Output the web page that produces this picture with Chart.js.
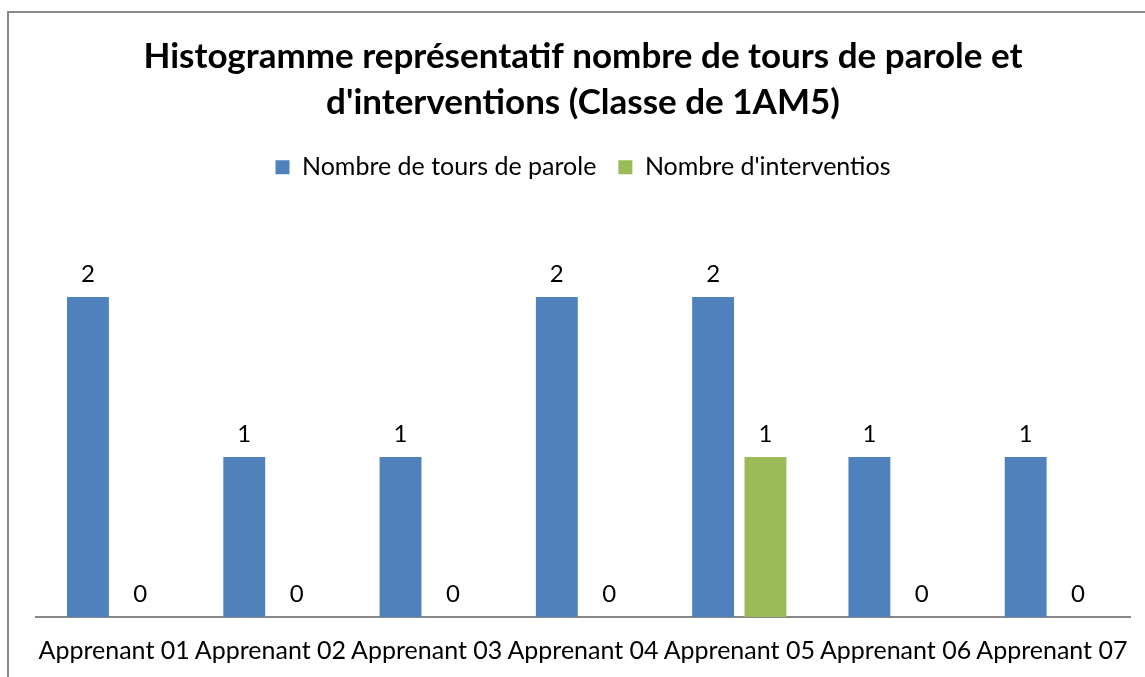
<!DOCTYPE html>
<html>
<head>
<meta charset="utf-8">
<script src="https://cdn.jsdelivr.net/npm/chart.js@4/dist/chart.umd.min.js"></script>
<style>
  body { margin: 0; background: #fff; }
  #cadre { position: absolute; left: 7px; top: 11px; width: 1200px; height: 700px; border: 2px solid #888; box-sizing: border-box; }
  #zone { position: absolute; left: 0; top: 0; width: 1145px; height: 677px; }
</style>
</head>
<body>
<div id="cadre"></div>
<div id="zone"><canvas id="graf"></canvas></div>
<script>
var apprenants = ["Apprenant 01", "Apprenant 02", "Apprenant 03", "Apprenant 04", "Apprenant 05", "Apprenant 06", "Apprenant 07"];
var toursParole = [2, 1, 1, 2, 2, 1, 1];
var interventions = [0, 0, 0, 0, 1, 0, 0];

var police = "Lato, 'Open Sans', sans-serif";

// petit plugin pour écrire la valeur au-dessus de chaque barre
var etiquettes = {
    id: 'etiquettes',
    afterDatasetsDraw: function (chart) {
        var ctx = chart.ctx;
        ctx.save();
        ctx.fillStyle = '#000';
        ctx.font = '24px ' + police;
        ctx.textAlign = 'center';
        ctx.textBaseline = 'middle';
        chart.data.datasets.forEach(function (ds, i) {
            chart.getDatasetMeta(i).data.forEach(function (bar, j) {
                ctx.fillText(ds.data[j], bar.x, bar.y - 23);
            });
        });
        ctx.restore();
    }
};

function createBarChart() {
    var ctx = document.getElementById('graf');
    new Chart(ctx, {
        type: 'bar',
        data: {
            labels: apprenants,
            datasets: [{
                label: 'Nombre de tours de parole',
                data: toursParole,
                backgroundColor: '#4F81BD'
            }, {
                label: "Nombre d'interventios",
                data: interventions,
                backgroundColor: '#9BBB59'
            }]
        },
        options: {
            responsive: true,
            maintainAspectRatio: false,
            animation: false,
            categoryPercentage: 0.67,
            barPercentage: 0.8,
            layout: { padding: { left: 36, right: 15, top: 34, bottom: 0 } },
            scales: {
                y: { display: false, min: 0, max: 2.67 },
                x: {
                    grid: { display: false },
                    border: { display: true, color: '#888', width: 2 },
                    ticks: { color: '#000', font: { family: police, size: 25 }, padding: 11, maxRotation: 0, autoSkip: false }
                }
            },
            plugins: {
                title: {
                    display: true,
                    text: ["Histogramme représentatif nombre de tours de parole et", "d'interventions (Classe de 1AM5)"],
                    color: '#000',
                    font: { family: police, size: 35, weight: 'bold', lineHeight: 1.31 },
                    padding: { top: 0, bottom: 7 }
                },
                legend: {
                    display: true,
                    labels: { color: '#000', boxWidth: 14, boxHeight: 14, padding: 22, font: { family: police, size: 25 } }
                },
                tooltip: { enabled: false }
            }
        },
        plugins: [etiquettes]
    });
}

document.addEventListener('DOMContentLoaded', function () {
    createBarChart();
});
</script>
</body>
</html>
